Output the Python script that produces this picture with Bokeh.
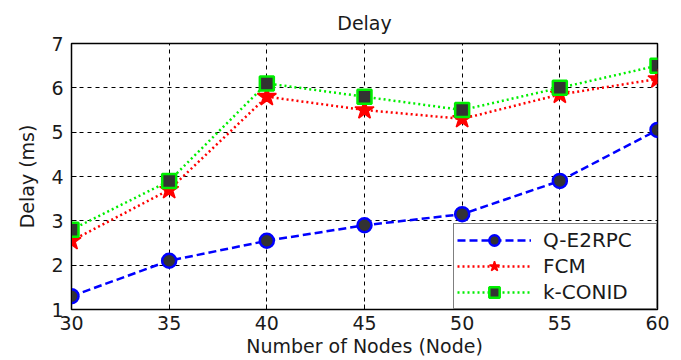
from bokeh.plotting import figure
from bokeh.embed import file_html
from bokeh.resources import INLINE
from bokeh.models import Legend, LegendItem, FixedTicker, Range1d

nodes = [30, 35, 40, 45, 50, 55, 60]
q_e2rpc = [1.3, 2.1, 2.55, 2.9, 3.15, 3.9, 5.05]
fcm = [2.55, 3.7, 5.8, 5.5, 5.3, 5.85, 6.2]
k_conid = [2.8, 3.9, 6.1, 5.8, 5.5, 6.0, 6.5]
series_names = ["Q-E2RPC", "FCM", "k-CONID"]
x_ticks = [30, 35, 40, 45, 50, 55, 60]
y_ticks = [1, 2, 3, 4, 5, 6, 7]

FONT = "DejaVu Sans"
TXT = "#1a1a1a"

p = figure(width=673, height=352, output_backend="svg", toolbar_location=None,
           x_range=Range1d(30, 60), y_range=Range1d(1, 7),
           title="Delay", frame_width=586, frame_height=266,
           min_border_left=71, min_border_right=16, min_border_top=43, min_border_bottom=43)
p.title.align = "center"
p.title.text_font = FONT
p.title.text_font_size = "19px"
p.title.text_font_style = "normal"
p.title.text_color = TXT
p.title.standoff = 19

p.outline_line_color = "black"
p.outline_line_width = 1.5
p.background_fill_color = "white"
p.border_fill_color = "white"

for ax in (p.xaxis, p.yaxis):
    ax.axis_line_color = "black"
    ax.major_tick_in = 5
    ax.major_tick_out = 0
    ax.minor_tick_line_color = None
    ax.major_label_text_font = FONT
    ax.major_label_text_font_size = "19px"
    ax.major_label_text_color = TXT
    ax.axis_label_text_font = FONT
    ax.axis_label_text_font_size = "19px"
    ax.axis_label_text_font_style = "normal"
    ax.axis_label_text_color = TXT

p.xaxis.ticker = FixedTicker(ticks=x_ticks)
p.yaxis.ticker = FixedTicker(ticks=y_ticks)
p.xaxis.axis_label = "Number of Nodes (Node)"
p.yaxis.axis_label = "Delay (ms)"
p.xaxis.major_label_standoff = 6
p.xaxis.axis_label_standoff = 2
p.yaxis.major_label_standoff = 8
p.yaxis.axis_label_standoff = 10

p.grid.grid_line_color = "black"
p.grid.grid_line_dash = "4 4"
p.grid.grid_line_width = 1

l1 = p.line(nodes, q_e2rpc, line_color="blue", line_width=2.5, line_dash="8 4")
m1 = p.scatter(nodes, q_e2rpc, marker="circle", size=14, fill_color="#333333",
               line_color="blue", line_width=2.5)
l2 = p.line(nodes, fcm, line_color="red", line_width=2.5, line_dash="2 3")
m2 = p.scatter(nodes, fcm, marker="star", size=20, fill_color="red",
               line_color="red", line_width=1.5)
l3 = p.line(nodes, k_conid, line_color="#00ee00", line_width=2.5, line_dash="2 3")
m3 = p.scatter(nodes, k_conid, marker="square", size=14, fill_color="#333333",
               line_color="#00ee00", line_width=2.5)

legend = Legend(items=[
    LegendItem(label=series_names[0], renderers=[l1, m1]),
    LegendItem(label=series_names[1], renderers=[l2, m2]),
    LegendItem(label=series_names[2], renderers=[l3, m3]),
], location="bottom_right")
legend.border_line_color = "black"
legend.border_line_width = 1.5
legend.margin = 0
legend.padding = 3
legend.spacing = 0
legend.glyph_width = 74
legend.glyph_height = 26
legend.label_height = 24
legend.label_text_font = FONT
legend.label_text_font_size = "20px"
legend.label_text_color = TXT
legend.label_standoff = 12
legend.label_width = 110
legend.background_fill_alpha = 1
p.add_layout(legend)

open("out.html", "w").write(file_html(p, INLINE))
